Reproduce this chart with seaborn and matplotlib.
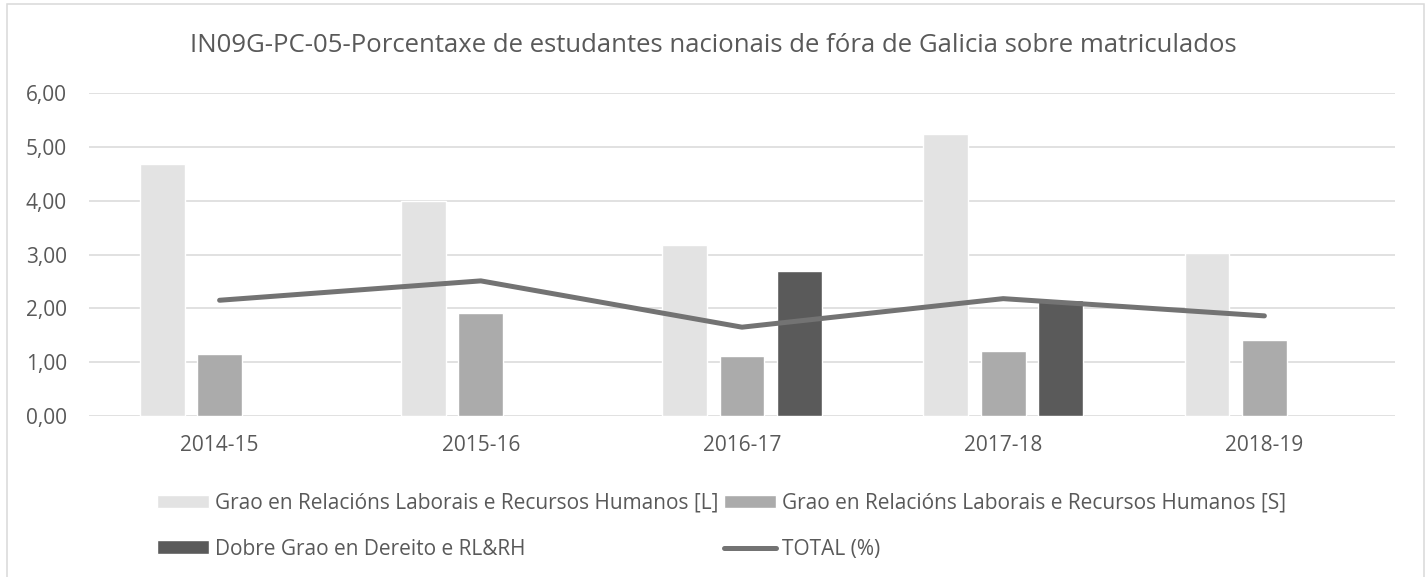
import numpy as np
import pandas as pd
import matplotlib.pyplot as plt
from matplotlib.patches import Rectangle
import seaborn as sns

# values
years = ['2014-15', '2015-16', '2016-17', '2017-18', '2018-19']
grao_l = [4.68, 4.00, 3.18, 5.23, 3.02]
grao_s = [1.16, 1.92, 1.11, 1.21, 1.42]
dobre = [np.nan, np.nan, 2.69, 2.16, np.nan]
total = [2.15, 2.51, 1.65, 2.18, 1.86]

series_names = ['Grao en Relacións Laborais e Recursos Humanos [L]',
                'Grao en Relacións Laborais e Recursos Humanos [S]',
                'Dobre Grao en Dereito e RL&RH']
series_colors = ['#E3E3E3', '#ABABAB', '#5A5A5A']
line_name = 'TOTAL (%)'
title = 'IN09G-PC-05-Porcentaxe de estudantes nacionais de fóra de Galicia sobre matriculados'

df = pd.DataFrame({
    'curso': years * 3,
    'valor': grao_l + grao_s + dobre,
    'serie': [s for s in series_names for _ in years],
})

sns.set_style('white')
plt.rcParams['font.family'] = ['Open Sans', 'DejaVu Sans']
txt = '#595959'

fig = plt.figure(figsize=(14.27, 5.77), dpi=100)
ax = fig.add_axes([89 / 1427, 1 - 416 / 577, (1395 - 89) / 1427, 323 / 577])

sns.barplot(data=df, x='curso', y='valor', hue='serie', hue_order=series_names,
            palette=series_colors, saturation=1, width=0.66, gap=0.22,
            ax=ax, legend=True)
sns.lineplot(x=years, y=total, color='#737373', linewidth=3.6, ax=ax,
             label=line_name, sort=False)
for ln in ax.lines:
    ln.set_solid_capstyle('round')

ax.set_xlim(-0.5, 4.5)
ax.set_ylim(0, 6)
ax.set_yticks(range(7))
ax.set_yticklabels([f'{v:.2f}'.replace('.', ',') for v in range(7)])
ax.set_xlabel('')
ax.set_ylabel('')
ax.set_axisbelow(True)
ax.grid(axis='y', color='#D9D9D9', linewidth=1.1)
ax.grid(axis='x', visible=False)
sns.despine(ax=ax, left=True, bottom=True)
ax.tick_params(axis='both', length=0, labelsize=15, labelcolor=txt)
ax.tick_params(axis='x', pad=14)
ax.tick_params(axis='y', pad=16)

handles, labels = ax.get_legend_handles_labels()
ax.get_legend().remove()
order = [0, 2, 1, 3]
fig.legend([handles[i] for i in order], [labels[i] for i in order],
           ncol=2, loc='upper left', bbox_to_anchor=(157 / 1427, 1 - 493 / 577),
           frameon=False, fontsize=15, labelcolor=txt, borderpad=0,
           handlelength=2.5, handleheight=0.63, handletextpad=0.28,
           columnspacing=0.28, labelspacing=1.18, borderaxespad=0)

fig.text(0.5, 1 - 52 / 577, title, ha='center', va='baseline', fontsize=18.5, color=txt)

fig.patches.append(Rectangle((7 / 1427, -0.05), (1424 - 7) / 1427, 1.05 - 3.5 / 577,
                             transform=fig.transFigure, fill=False,
                             edgecolor='#D9D9D9', linewidth=1.1))

fig.savefig('out.png', dpi=100)
